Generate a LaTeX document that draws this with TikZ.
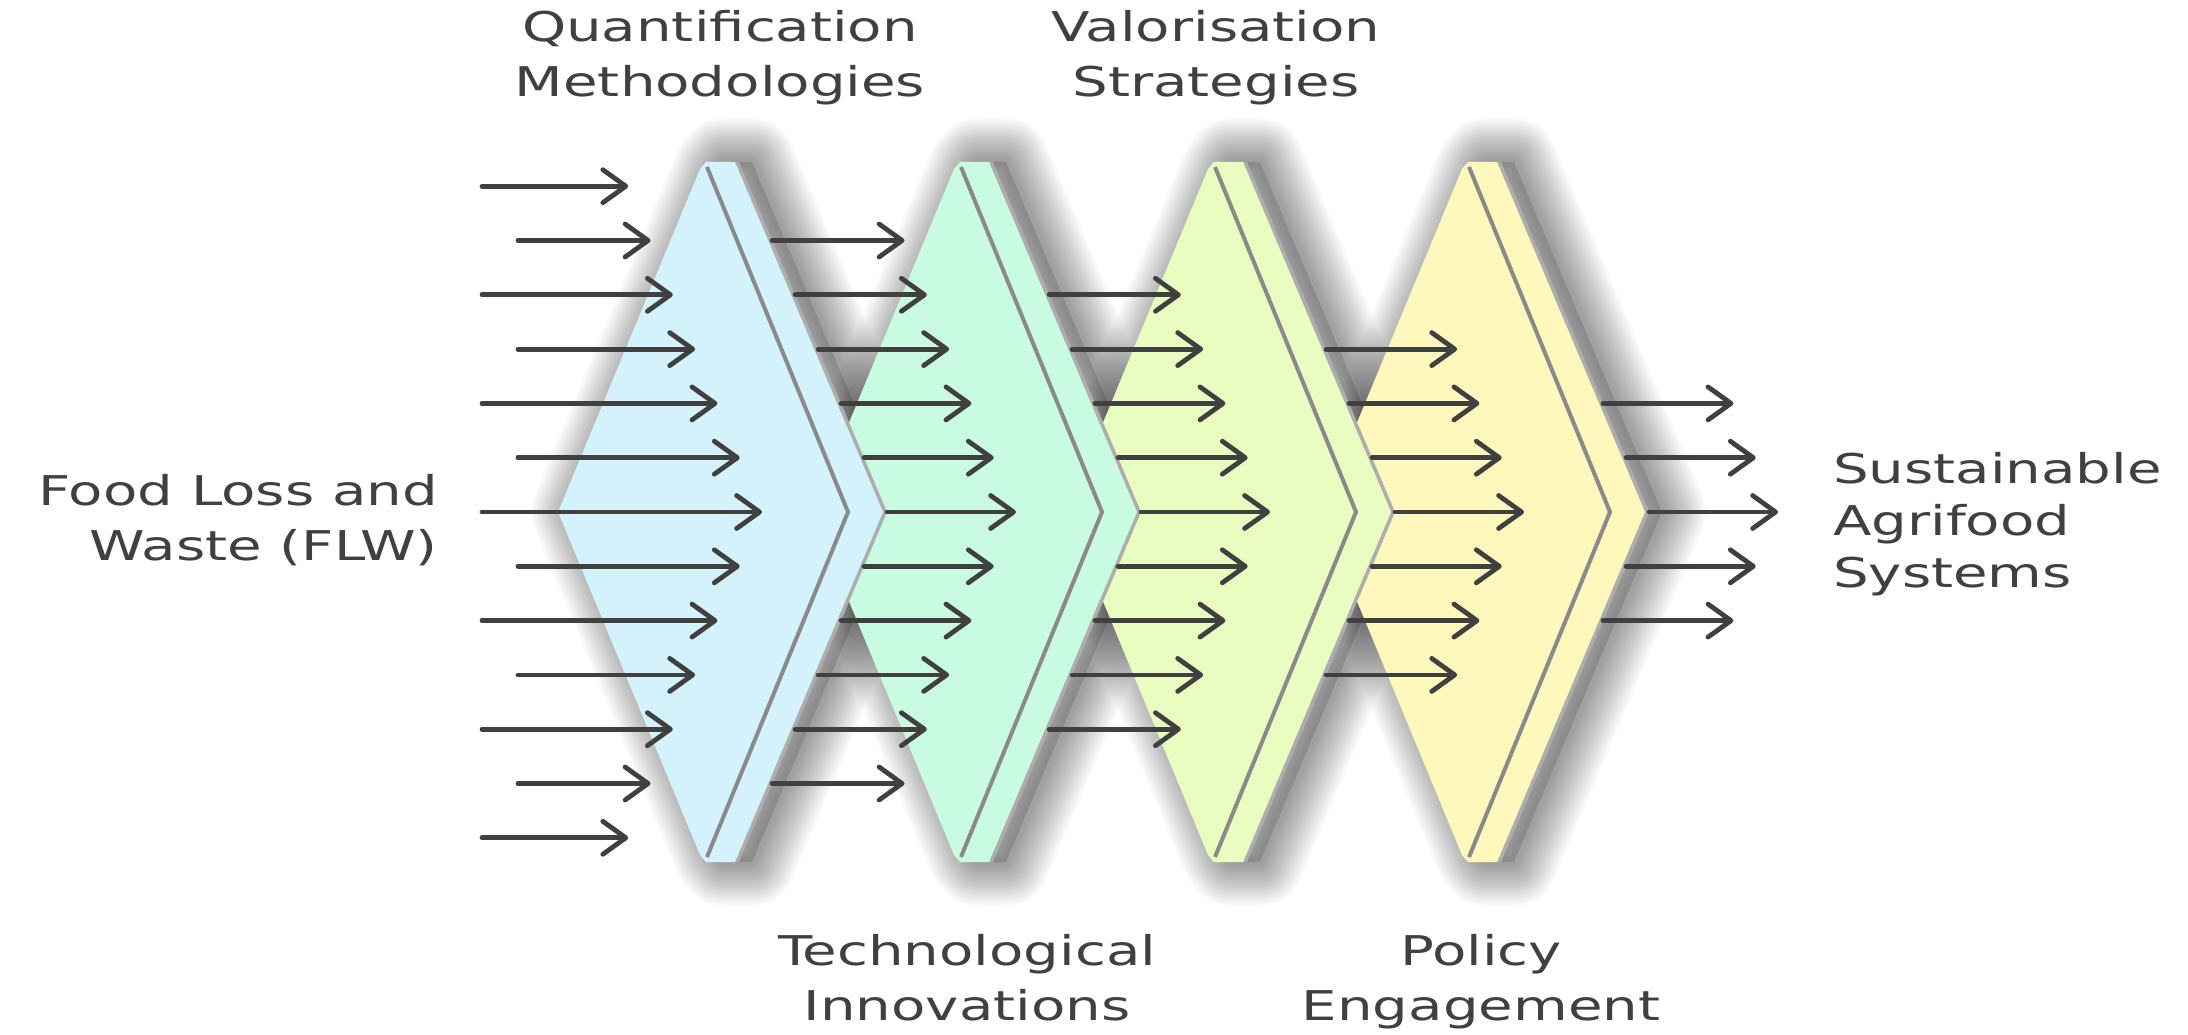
\documentclass[tikz,border=0pt]{standalone}
\usepackage{fontspec}
\setmainfont[FakeStretch=1.37]{DejaVu Sans}
\usetikzlibrary{arrows.meta}
\definecolor{chA}{HTML}{D4F2FC}
\definecolor{chB}{HTML}{C9FBE3}
\definecolor{chC}{HTML}{EAFDC0}
\definecolor{chD}{HTML}{FFF8BC}
\definecolor{ink}{HTML}{404040}
\definecolor{crease}{HTML}{8A8A8A}
\newcommand\chevpath[1]{(#1-142,512) -- (#1,169) -- (#1+6,162) -- (#1+35,162) -- (#1+183,512) -- (#1+35,862) -- (#1+6,862) -- (#1,855) -- cycle}
\begin{document}
\begin{tikzpicture}[x=1pt,y=-1pt,
  flow/.style={draw=ink, line width=4.8pt, line cap=round, -{Straight Barb[length=23pt,width=33pt,round]}},
  lbl/.style={text=ink, inner sep=0pt, font=\fontsize{41}{55}\selectfont},
  shadowpass/.style={draw=black, opacity=0.021, line join=round, line width=#1}
]
\useasboundingbox[fill=white] (0,0) rectangle (2188,1035);

% soft shadows under all chevrons
\foreach \i in {1,...,4}{
  \pgfmathsetmacro\T{700+254*(\i-1)}
  \begin{scope}[xshift=17pt]
    \fill[black, opacity=0.12] \chevpath{\T};
    \foreach \w in {88,84,...,8}{
      \path[shadowpass=\w pt] \chevpath{\T};
    }
  \end{scope}
}

% chevrons, back to front
\foreach \i/\c in {4/chD,3/chC,2/chB,1/chA}{
  \pgfmathsetmacro\T{700+254*(\i-1)}
  \fill[black!32, xshift=4pt] \chevpath{\T};
  \fill[\c] \chevpath{\T};
  \draw[crease, line width=4pt] (\T+7,167) -- (\T+148,512) -- (\T+7,857);
}

% arrows
\foreach \g in {1,...,5}{
  \pgfmathtruncatemacro\n{7-\g}
  \foreach \k in {-\n,...,\n}{
    \pgfmathsetmacro\y{512+54.3*\k}
    \pgfmathsetmacro\tip{700+254*(\g-1)+62-22.3*abs(\k)}
    \ifnum\g=1
      \pgfmathsetmacro\st{mod(abs(\k),2)==1 ? 518 : 482}
    \else
      \pgfmathsetmacro\st{700+254*(\g-2)+187-22.96*abs(\k)}
    \fi
    \coordinate (s\g\k) at (\st,\y);
    \coordinate (e\g\k) at (\tip,\y);
    \draw[flow] (s\g\k) -- (e\g\k);
  }
}

% labels
\node[lbl, anchor=base] (qa) at (720,42) {Quantification};
\node[lbl, anchor=base] (qb) at (720,97) {Methodologies};
\node[lbl, anchor=base] (va) at (1216,42) {Valorisation};
\node[lbl, anchor=base] (vb) at (1216,97) {Strategies};
\node[lbl, anchor=base] (ta) at (967,965) {Technological};
\node[lbl, anchor=base] (tb) at (967,1020) {Innovations};
\node[lbl, anchor=base] (pa) at (1481,965) {Policy};
\node[lbl, anchor=base] (pb) at (1481,1020) {Engagement};
\node[lbl, anchor=base east] (fa) at (438,505) {Food Loss and};
\node[lbl, anchor=base east] (fb) at (438,560) {Waste (FLW)};
\node[lbl, anchor=base west] (sa) at (1833,483) {Sustainable};
\node[lbl, anchor=base west] (sb) at (1833,535) {Agrifood};
\node[lbl, anchor=base west] (sc) at (1833,587) {Systems};
\end{tikzpicture}
\end{document}
